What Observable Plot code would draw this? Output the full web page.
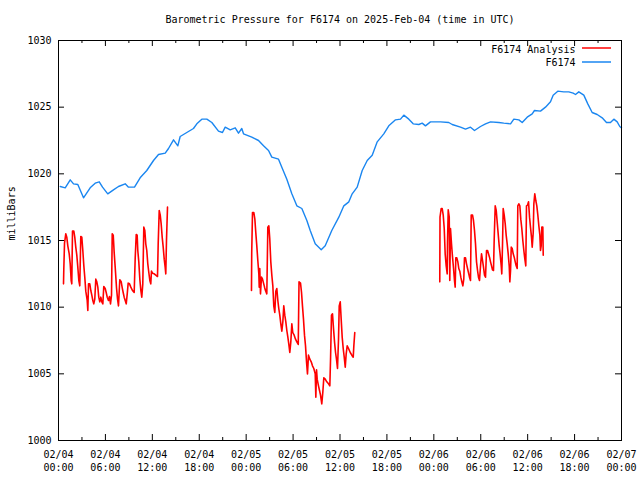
<!DOCTYPE html>
<html><head><meta charset="utf-8">
<script src="https://cdn.jsdelivr.net/npm/d3@7"></script>
<script src="https://cdn.jsdelivr.net/npm/@observablehq/plot@0.6"></script>
<style>body{margin:0;background:#fff}</style>
</head><body><div id="chart"></div>
<script>
const titleText = "Barometric Pressure for F6174 on 2025-Feb-04 (time in UTC)";
const yLabelText = "milliBars";
const seriesNames = ["F6174 Analysis", "F6174"];
const seriesColors = ["#ff0000", "#1a86f0"];

const xMajorHours = [0, 6, 12, 18, 24, 30, 36, 42, 48, 54, 60, 66, 72];
const xMinorHours = [3, 9, 15, 21, 27, 33, 39, 45, 51, 57, 63, 69];
const xDateLabels = ["02/04","02/04","02/04","02/04","02/05","02/05","02/05","02/05","02/06","02/06","02/06","02/06","02/07"];
const xTimeLabels = ["00:00","06:00","12:00","18:00","00:00","06:00","12:00","18:00","00:00","06:00","12:00","18:00","00:00"];
const yTicks = [1000, 1005, 1010, 1015, 1020, 1025, 1030];

// F6174 station (hours since 2025-02-04 00:00 UTC)
const stationHours = [0.22,0.86,1.50,1.92,2.47,3.20,4.05,4.69,5.21,5.63,6.30,7.03,7.67,8.53,8.95,9.72,10.44,11.29,12.15,12.79,13.65,14.07,14.71,15.26,15.56,16.41,17.26,17.69,18.33,18.97,19.61,20.46,20.97,21.32,21.96,22.60,23.02,23.44,23.66,24.72,25.58,26.22,26.86,27.28,28.14,28.56,29.20,29.84,30.48,31.12,31.76,32.19,32.83,33.60,34.11,34.95,35.85,36.49,37.13,37.56,38.20,38.84,39.48,40.12,40.76,41.60,42.24,43.10,43.74,44.16,44.80,45.36,46.08,46.51,46.93,47.57,48.85,49.91,50.35,51.41,52.05,52.69,53.20,53.97,54.61,55.25,56.31,56.95,57.81,58.23,58.87,59.30,59.94,60.58,60.87,61.64,62.28,62.92,63.26,63.85,64.62,65.26,65.82,66.12,66.54,67.18,67.69,68.25,68.89,69.53,70.08,70.59,71.02,71.45,71.78,72.0];
const stationValues = [1019.05,1018.95,1019.55,1019.25,1019.2,1018.2,1018.95,1019.3,1019.4,1019.0,1018.5,1018.8,1019.05,1019.25,1019.0,1019.0,1019.7,1020.25,1021.0,1021.45,1021.55,1021.9,1022.55,1022.1,1022.8,1023.1,1023.4,1023.75,1024.1,1024.1,1023.85,1023.2,1023.1,1023.5,1023.3,1023.45,1023.05,1023.4,1023.0,1022.75,1022.5,1022.1,1021.75,1021.25,1021.1,1020.5,1019.6,1018.5,1017.6,1017.4,1016.5,1015.75,1014.75,1014.3,1014.6,1015.75,1016.75,1017.6,1017.9,1018.5,1019.0,1020.25,1021.0,1021.4,1022.4,1023.0,1023.6,1024.05,1024.1,1024.4,1024.1,1023.75,1023.7,1023.8,1023.6,1023.9,1023.9,1023.85,1023.7,1023.5,1023.35,1023.5,1023.25,1023.55,1023.75,1023.9,1023.85,1023.8,1023.75,1024.1,1024.05,1023.85,1024.25,1024.5,1024.75,1024.7,1025.0,1025.4,1025.9,1026.2,1026.15,1026.15,1026.05,1025.95,1026.15,1025.9,1025.25,1024.6,1024.45,1024.2,1023.85,1023.85,1024.1,1023.9,1023.55,1023.45];

// F6174 Analysis, three runs
const analysisHours1 = [0.64,0.68,0.77,0.93,1.06,1.19,1.37,1.50,1.62,1.70,1.79,1.96,2.08,2.21,2.34,2.47,2.60,2.72,2.85,2.98,3.11,3.24,3.36,3.49,3.67,3.75,3.84,4.00,4.13,4.26,4.39,4.51,4.64,4.77,4.90,5.03,5.15,5.28,5.41,5.54,5.67,5.79,5.97,6.10,6.23,6.39,6.52,6.65,6.78,6.87,7.00,7.12,7.25,7.42,7.55,7.67,7.84,8.02,8.15,8.27,8.40,8.53,8.66,8.79,8.91,9.08,9.25,9.46,9.68,9.81,9.94,10.06,10.14,10.27,10.40,10.53,10.65,10.78,10.91,11.04,11.16,11.29,11.42,11.55,11.68,11.80,11.89,12.02,12.24,12.44,12.66,12.75,12.88,13.01,13.13,13.26,13.39,13.52,13.64,13.72,13.81,13.94];
const analysisValues1 = [1011.75,1012.9,1014.8,1015.5,1015.25,1014.6,1014.0,1013.25,1012.0,1011.75,1015.7,1015.7,1015.25,1014.5,1013.9,1013.0,1012.0,1011.6,1015.3,1015.25,1014.25,1013.1,1012.25,1011.2,1010.5,1009.75,1011.75,1011.75,1011.25,1010.9,1010.5,1010.25,1010.6,1012.1,1011.9,1011.5,1010.75,1010.4,1010.75,1010.4,1010.25,1011.55,1011.4,1011.1,1010.75,1010.5,1010.8,1010.25,1010.9,1015.5,1015.4,1014.1,1013.0,1011.45,1010.6,1010.1,1012.05,1011.9,1011.45,1011.1,1010.75,1010.5,1010.25,1011.0,1011.8,1011.75,1011.5,1011.25,1011.1,1013.7,1015.45,1015.4,1014.25,1013.4,1012.1,1011.25,1010.75,1011.75,1016.0,1015.75,1014.75,1014.25,1013.25,1012.6,1012.0,1011.75,1012.7,1012.55,1012.5,1012.4,1012.3,1014.75,1017.25,1016.9,1016.25,1015.25,1014.5,1013.6,1013.0,1012.5,1015.0,1017.5];
const analysisHours2 = [24.68,24.71,24.81,24.98,25.11,25.23,25.36,25.49,25.62,25.67,25.74,25.83,25.96,26.09,26.22,26.35,26.47,26.64,26.77,26.90,27.02,27.15,27.28,27.41,27.53,27.66,27.79,27.92,28.05,28.17,28.30,28.43,28.56,28.69,28.81,28.94,29.07,29.20,29.33,29.45,29.58,29.71,29.84,29.96,30.14,30.31,30.48,30.66,30.76,30.95,31.08,31.20,31.33,31.46,31.59,31.72,31.84,31.97,32.14,32.32,32.48,32.65,32.83,32.91,33.00,33.08,33.25,33.38,33.51,33.67,33.80,33.93,34.11,34.31,34.53,34.70,34.79,34.91,35.04,35.17,35.30,35.43,35.55,35.68,35.81,35.90,36.03,36.15,36.28,36.41,36.54,36.67,36.79,36.92,37.09,37.31,37.51,37.69,37.77,37.89];
const analysisValues2 = [1011.25,1014.1,1017.1,1017.1,1016.6,1015.6,1014.6,1013.5,1012.5,1011.5,1012.9,1011.0,1012.25,1012.1,1011.8,1011.5,1011.25,1011.0,1016.0,1016.1,1015.1,1013.4,1012.4,1011.6,1010.1,1009.6,1011.2,1011.4,1010.5,1009.9,1009.4,1008.75,1008.2,1008.9,1010.1,1009.4,1008.9,1008.25,1007.75,1007.25,1006.6,1007.4,1008.75,1008.1,1007.9,1007.6,1007.4,1007.2,1011.9,1011.8,1011.1,1010.1,1009.1,1007.9,1007.1,1005.9,1005.0,1006.4,1006.1,1005.9,1005.6,1005.4,1005.0,1003.25,1005.3,1004.6,1004.1,1003.75,1003.4,1002.75,1003.6,1004.7,1004.6,1004.4,1004.25,1004.1,1006.1,1009.4,1009.5,1008.4,1007.4,1006.6,1006.1,1005.4,1007.6,1010.1,1010.4,1009.1,1007.75,1006.9,1006.25,1005.5,1006.5,1007.1,1006.9,1006.6,1006.4,1006.25,1007.1,1008.1];
const analysisHours3 = [48.76,48.79,48.94,49.07,49.20,49.33,49.45,49.58,49.71,49.75,49.84,49.97,50.04,50.13,50.26,50.39,50.52,50.64,50.73,50.81,50.94,51.07,51.19,51.32,51.45,51.58,51.71,51.83,51.92,52.05,52.18,52.31,52.43,52.56,52.69,52.78,52.95,53.07,53.20,53.33,53.46,53.59,53.71,53.84,53.97,54.10,54.23,54.35,54.48,54.61,54.74,54.87,54.99,55.12,55.25,55.38,55.50,55.63,55.72,55.85,55.98,56.10,56.23,56.36,56.49,56.62,56.69,56.78,56.87,57.00,57.13,57.25,57.38,57.51,57.64,57.72,57.81,57.90,58.02,58.15,58.28,58.41,58.53,58.66,58.74,58.87,59.00,59.12,59.25,59.38,59.51,59.64,59.76,59.85,59.98,60.11,60.24,60.36,60.49,60.58,60.71,60.79,60.91,61.04,61.17,61.30,61.43,61.56,61.64,61.73,61.81,61.94,61.99];
const analysisValues3 = [1011.9,1016.75,1017.4,1017.4,1016.9,1015.9,1014.0,1013.1,1012.5,1014.9,1017.3,1016.75,1012.0,1015.9,1014.75,1013.75,1012.9,1012.0,1011.5,1013.7,1013.7,1013.4,1012.9,1012.7,1012.25,1011.9,1011.6,1012.1,1013.7,1013.7,1013.25,1012.9,1012.6,1012.25,1012.0,1016.9,1016.9,1016.5,1015.75,1014.75,1013.4,1012.75,1012.25,1012.0,1013.1,1014.0,1013.5,1013.0,1012.4,1012.25,1014.25,1014.25,1014.0,1013.75,1013.4,1013.1,1012.8,1012.75,1015.1,1017.6,1017.25,1016.4,1015.5,1014.6,1013.9,1013.1,1012.5,1014.6,1017.4,1016.9,1016.25,1015.4,1014.75,1014.0,1013.1,1011.9,1012.75,1014.5,1014.4,1014.0,1013.75,1013.4,1013.1,1012.9,1017.6,1017.75,1017.6,1016.6,1015.9,1015.0,1014.25,1013.6,1013.1,1017.6,1017.65,1017.9,1016.75,1016.0,1015.25,1014.5,1015.6,1017.75,1018.5,1018.0,1017.6,1016.9,1016.1,1015.4,1014.25,1014.6,1016.0,1016.0,1013.9];

const t0 = Date.UTC(2025, 1, 4);
const toDate = h => new Date(t0 + h * 3600000);

const stationRows = stationHours.map((h, i) => ({date: toDate(h), value: stationValues[i]}));
const analysisRows = [
  [analysisHours1, analysisValues1],
  [analysisHours2, analysisValues2],
  [analysisHours3, analysisValues3]
].flatMap(([hs, vs], s) => hs.map((h, i) => ({date: toDate(h), value: vs[i], seg: s})));

const majorDates = xMajorHours.map(toDate);
const minorDates = xMinorHours.map(toDate);
const labelByTime = new Map(majorDates.map((d, i) => [+d, xDateLabels[i] + "\n" + xTimeLabels[i]]));

const W = 640, H = 480, mL = 58, mR = 19, mT = 40, mB = 40;
const fw = W - mL - mR, fh = H - mT - mB;
const font = "'DejaVu Sans Mono', monospace";

const chart = Plot.plot({
  width: W, height: H,
  marginLeft: mL, marginRight: mR, marginTop: mT, marginBottom: mB,
  style: {fontFamily: font, fontSize: "10px", background: "white", color: "black", overflow: "visible"},
  x: {type: "utc", domain: [toDate(0), toDate(72)]},
  y: {domain: [1000, 1030]},
  marks: [
    Plot.axisX({ticks: majorDates, tickSize: 0, tickPadding: 8, lineHeight: 1.3, label: null,
      tickFormat: d => labelByTime.get(+d), fill: "black"}),
    Plot.axisY({ticks: yTicks, tickSize: 0, tickPadding: 7, label: null, tickFormat: d => String(d), fill: "black"}),
    Plot.tickX(majorDates, {x: d => d, insetTop: fh - 6, stroke: "black"}),
    Plot.tickX(majorDates, {x: d => d, insetBottom: fh - 6, stroke: "black"}),
    Plot.tickX(minorDates, {x: d => d, insetTop: fh - 3, stroke: "black"}),
    Plot.tickX(minorDates, {x: d => d, insetBottom: fh - 3, stroke: "black"}),
    Plot.tickY(yTicks, {y: d => d, insetRight: fw - 6, stroke: "black"}),
    Plot.tickY(yTicks, {y: d => d, insetLeft: fw - 6, stroke: "black"}),
    Plot.line(stationRows, {x: "date", y: "value", stroke: seriesColors[1], strokeWidth: 1.4}),
    Plot.line(analysisRows, {x: "date", y: "value", z: "seg", stroke: seriesColors[0], strokeWidth: 1.6}),
    Plot.frame({stroke: "black"}),
    Plot.text([titleText], {text: d => d, frameAnchor: "top", lineAnchor: "middle", dy: -21, fill: "black"}),
    Plot.text([yLabelText], {text: d => d, frameAnchor: "left", dx: -47, rotate: -90, fill: "black"}),
    Plot.text([seriesNames[0]], {text: d => d, frameAnchor: "top-right", lineAnchor: "middle", dx: -46, dy: 9, textAnchor: "end", fill: "black"}),
    Plot.text([seriesNames[1]], {text: d => d, frameAnchor: "top-right", lineAnchor: "middle", dx: -46, dy: 22, textAnchor: "end", fill: "black"})
  ]
});
document.getElementById("chart").appendChild(chart);

// legend swatches
const svg = d3.select(chart);
seriesColors.forEach((c, i) => {
  svg.append("line")
    .attr("x1", W - mR - 39).attr("x2", W - mR - 10)
    .attr("y1", mT + 8 + i * 14).attr("y2", mT + 8 + i * 14)
    .attr("stroke", c).attr("stroke-width", 1.5);
});
</script></body></html>
